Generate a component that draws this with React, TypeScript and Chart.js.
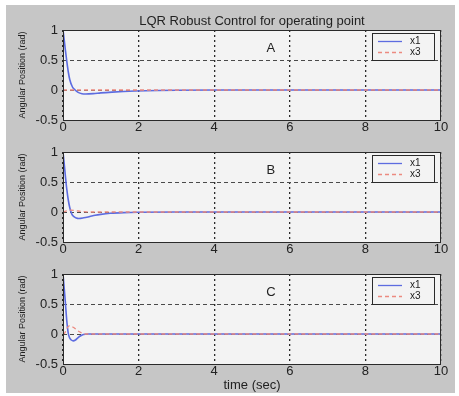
import React, { useEffect, useRef } from "react";
import { Chart, registerables } from "chart.js";

Chart.register(...registerables);

// ---------- data ----------
const TITLE = "LQR Robust Control for operating point";
const Y_LABEL = "Angular Position (rad)";
const X_LABEL = "time (sec)";
const SERIES_NAMES = ["x1", "x3"];
const PANEL_LABELS = ["A", "B", "C"];
const X_TICKS = [0, 2, 4, 6, 8, 10];
const Y_TICKS = [-0.5, 0, 0.5, 1];

// Panel A
const tA_x1 = [0, 0.03, 0.06, 0.1, 0.14, 0.18, 0.25, 0.32, 0.4, 0.5, 0.6, 0.8, 1.0, 1.3, 1.6, 1.9, 2.5, 3.0, 4.0, 10];
const vA_x1 = [1, 0.85, 0.68, 0.48, 0.3, 0.17, 0.05, 0.0, -0.04, -0.062, -0.066, -0.06, -0.048, -0.035, -0.025, -0.017, -0.008, -0.004, 0, 0];
const tA_x3 = [0, 2, 4, 6, 8, 10];
const vA_x3 = [0, 0, 0, 0, 0, 0];

// Panel B
const tB_x1 = [0, 0.03, 0.06, 0.1, 0.14, 0.18, 0.23, 0.29, 0.35, 0.42, 0.55, 0.71, 0.85, 1.0, 1.25, 1.6, 2.0, 3.0, 10];
const vB_x1 = [1, 0.82, 0.62, 0.38, 0.2, 0.07, -0.03, -0.077, -0.1, -0.108, -0.097, -0.075, -0.055, -0.04, -0.022, -0.01, -0.004, 0, 0];
const tB_x3 = [0, 0.1, 0.2, 0.35, 0.5, 0.7, 10];
const vB_x3 = [0, 0.02, 0.03, 0.02, 0.01, 0, 0];

// Panel C
const tC_x1 = [0, 0.03, 0.06, 0.1, 0.14, 0.18, 0.22, 0.27, 0.33, 0.4, 0.47, 0.54, 0.65, 0.8, 10];
const vC_x1 = [1, 0.78, 0.55, 0.22, 0.01, -0.07, -0.1, -0.115, -0.1, -0.06, -0.03, -0.01, 0, 0, 0];
const tC_x3 = [0, 0.05, 0.1, 0.16, 0.22, 0.3, 0.4, 0.5, 0.58, 10];
const vC_x3 = [0, 0.02, 0.09, 0.135, 0.13, 0.1, 0.05, 0.015, 0, 0];

const PANEL_DATA = [
  { t1: tA_x1, v1: vA_x1, t3: tA_x3, v3: vA_x3 },
  { t1: tB_x1, v1: vB_x1, t3: tB_x3, v3: vB_x3 },
  { t1: tC_x1, v1: vC_x1, t3: tC_x3, v3: vC_x3 },
];

// ---------- styles / layout ----------
const FONT = "'Liberation Sans', Arial, Helvetica, sans-serif";
const FIG_BG = "#c6c6c6";
const PLOT_BG = "#f3f3f3";
const TEXT = "#222222";
const BLUE = "#5d6ce0";
const RED = "#ec8a80";
const W = 459;
const H = 396;

const PANELS = [
  { top: 0, height: 136, padTop: 30, xScaleH: 16, title: true, xlabel: false },
  { top: 136, height: 122, padTop: 16, xScaleH: 16, title: false, xlabel: false },
  { top: 258, height: 138, padTop: 16, xScaleH: 32, title: false, xlabel: true },
];

function makePlugin(idx: number, showTitle: boolean) {
  return {
    id: "matlabFrame" + idx,
    beforeDraw(chart: any) {
      const { ctx, chartArea } = chart;
      const { left, top, right, bottom } = chartArea;
      ctx.save();
      ctx.fillStyle = PLOT_BG;
      ctx.fillRect(left, top, right - left, bottom - top);
      ctx.restore();
    },
    afterDraw(chart: any) {
      const { ctx, chartArea, scales } = chart;
      const { left, top, right, bottom } = chartArea;
      ctx.save();
      // frame
      ctx.strokeStyle = "#2a2a2a";
      ctx.lineWidth = 1;
      ctx.setLineDash([]);
      ctx.strokeRect(Math.round(left) + 0.5, Math.round(top) + 0.5, Math.round(right - left) - 1, Math.round(bottom - top));
      // panel label
      ctx.fillStyle = TEXT;
      ctx.font = `13px ${FONT}`;
      ctx.textAlign = "center";
      ctx.textBaseline = "middle";
      ctx.fillText(PANEL_LABELS[idx], scales.x.getPixelForValue(5.5), scales.y.getPixelForValue(0.7));
      // legend
      const lx = right - 69;
      const ly = top + 3;
      const lw = 62;
      const lh = 27;
      ctx.fillStyle = PLOT_BG;
      ctx.fillRect(lx, ly, lw, lh);
      ctx.strokeStyle = "#2a2a2a";
      ctx.lineWidth = 1;
      ctx.strokeRect(Math.round(lx) + 0.5, Math.round(ly) + 0.5, lw, lh);
      const rows = [ly + 8.5, ly + 19.5];
      const colors = [BLUE, RED];
      const dashes = [[], [4, 3]];
      for (let i = 0; i < 2; i++) {
        ctx.strokeStyle = colors[i];
        ctx.lineWidth = 1.3;
        ctx.setLineDash(dashes[i]);
        ctx.beginPath();
        ctx.moveTo(lx + 6, rows[i]);
        ctx.lineTo(lx + 30, rows[i]);
        ctx.stroke();
        ctx.setLineDash([]);
        ctx.fillStyle = TEXT;
        ctx.font = `10px ${FONT}`;
        ctx.textAlign = "left";
        ctx.textBaseline = "middle";
        ctx.fillText(SERIES_NAMES[i], lx + 38, rows[i]);
      }
      if (showTitle) {
        ctx.fillStyle = TEXT;
        ctx.font = `13px ${FONT}`;
        ctx.textAlign = "center";
        ctx.textBaseline = "middle";
        ctx.fillText(TITLE, (left + right) / 2, 21);
      }
      ctx.restore();
    },
  };
}

function Panel({ idx }: { idx: number }) {
  const ref = useRef<HTMLCanvasElement | null>(null);
  const p = PANELS[idx];
  useEffect(() => {
    if (!ref.current) return;
    const d = PANEL_DATA[idx];
    const chart = new Chart(ref.current, {
      type: "line",
      data: {
        datasets: [
          {
            label: SERIES_NAMES[1],
            data: d.t3.map((t, i) => ({ x: t, y: d.v3[i] })),
            borderColor: RED,
            borderWidth: 1.3,
            borderDash: [4, 3],
            pointRadius: 0,
            tension: 0.35,
            cubicInterpolationMode: "monotone",
            fill: false,
          },
          {
            label: SERIES_NAMES[0],
            data: d.t1.map((t, i) => ({ x: t, y: d.v1[i] })),
            borderColor: BLUE,
            borderWidth: 1.6,
            pointRadius: 0,
            tension: 0.35,
            cubicInterpolationMode: "monotone",
            fill: false,
          },
        ],
      },
      options: {
        responsive: false,
        animation: false,
        devicePixelRatio: 1,
        layout: { padding: { left: 0, right: W - 441, top: p.padTop, bottom: 0 } },
        plugins: { legend: { display: false }, tooltip: { enabled: false }, title: { display: false } },
        scales: {
          x: {
            type: "linear",
            min: 0,
            max: 10,
            afterBuildTicks: (s: any) => {
              s.ticks = X_TICKS.map((v) => ({ value: v }));
            },
            afterFit: (s: any) => {
              s.height = p.xScaleH;
            },
            border: { display: false, dash: [2, 3] },
            grid: { color: "#2a2a2a", lineWidth: 1.3, drawTicks: false },
            ticks: {
              color: TEXT,
              font: { family: FONT, size: 13 },
              padding: 0,
              maxRotation: 0,
              callback: (v: any) => String(v),
            },
            title: {
              display: p.xlabel,
              text: X_LABEL,
              color: TEXT,
              font: { family: FONT, size: 13 },
              padding: { top: 0, bottom: 3 },
            },
          },
          y: {
            type: "linear",
            min: -0.5,
            max: 1,
            afterBuildTicks: (s: any) => {
              s.ticks = Y_TICKS.map((v) => ({ value: v }));
            },
            afterFit: (s: any) => {
              s.width = 63;
            },
            border: { display: false, dash: [4, 3] },
            grid: { color: "#4a4a4a", lineWidth: 1, drawTicks: false },
            ticks: {
              color: TEXT,
              font: { family: FONT, size: 13 },
              padding: 5,
              callback: (v: any) => String(v),
            },
            title: {
              display: true,
              text: Y_LABEL,
              color: TEXT,
              font: { family: FONT, size: 9 },
              padding: { top: 17, bottom: 0 },
            },
          },
        },
      },
      plugins: [makePlugin(idx, p.title)],
    } as any);
    return () => chart.destroy();
  }, [idx]);
  return (
    <canvas
      ref={ref}
      width={W}
      height={p.height}
      style={{ position: "absolute", left: 0, top: p.top, width: W, height: p.height }}
    />
  );
}

export default function App() {
  return (
    <div style={{ position: "fixed", left: 0, top: 0, width: W, height: H, background: "#ffffff", overflow: "hidden" }}>
      <div style={{ position: "absolute", left: 6, top: 5, width: 449, height: 388, background: FIG_BG }} />
      {PANELS.map((_, i) => (
        <Panel key={i} idx={i} />
      ))}
    </div>
  );
}
